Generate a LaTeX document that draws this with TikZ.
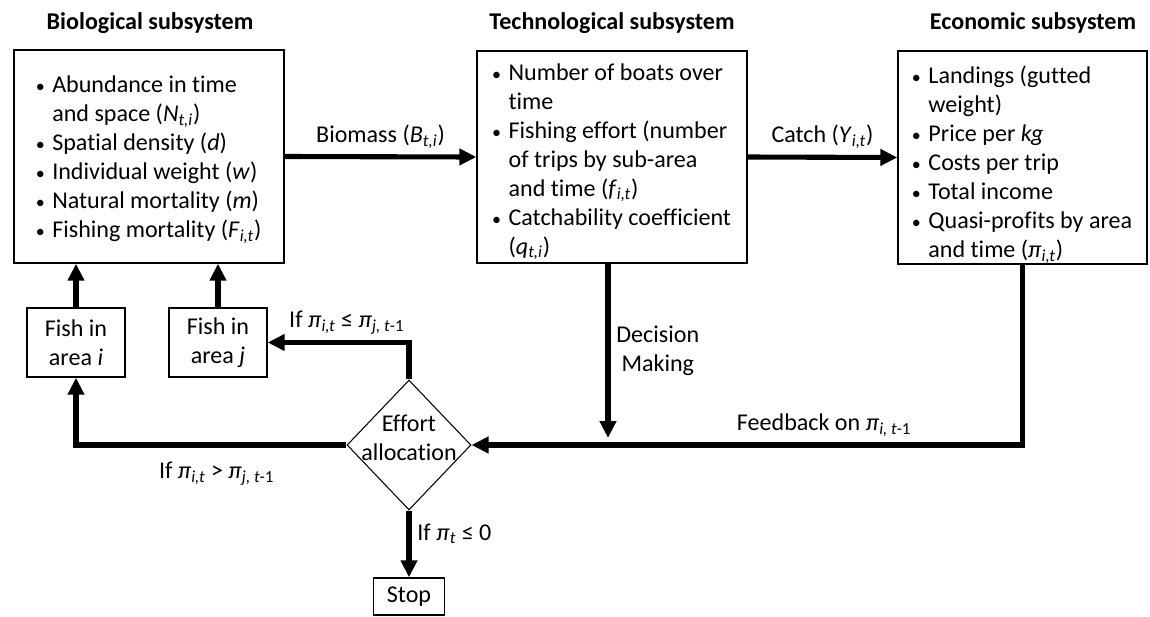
\documentclass[tikz,border=0pt]{standalone}
\usepackage{fontspec}
\setmainfont{Carlito}[Ligatures=NoCommon]
\usetikzlibrary{arrows.meta,shapes.geometric,calc}

\newcommand{\bul}{\makebox[0.3em][c]{\scalebox{0.75}{•}}\hspace*{0.35em}}
\newcommand{\ind}{\hspace*{0.65em}}
\newcommand{\isub}[1]{\textsubscript{\textit{#1}}}

\tikzset{
  txt/.style={font=\fontsize{13.7}{16.5}\selectfont},
  title/.style={font=\fontsize{13.7}{16.5}\selectfont\bfseries},
  box/.style={txt, draw, line width=0.8pt, rectangle, align=left, inner sep=0pt},
  small box/.style={box, align=center, minimum width=1.96cm, minimum height=1.38cm},
  flow/.style={line width=2.9pt, -{Triangle[length=0.34cm,width=0.32cm]}},
}

\begin{document}
\begin{tikzpicture}[x=0.02cm,y=-0.02cm]
\useasboundingbox (0,0) rectangle (1150,616);

% the three subsystems
\node[title] (biotitle) at (150,23) {Biological subsystem};
\node[title] (techtitle) at (612,23) {Technological subsystem};
\node[title] (ecotitle) at (1033,23) {Economic subsystem};

\node[box, minimum width=5.4cm, minimum height=4.26cm] (bio) at (149,156.5)
  {\bul Abundance in time\rule{0pt}{13pt}\\
   \ind and space (\textit{N}\isub{t,i})\\
   \bul Spatial density (\textit{d})\\
   \bul Individual weight (\textit{w})\\
   \bul Natural mortality (\textit{m})\\
   \bul Fishing mortality (\textit{F}\isub{i,t})};

\node[box, minimum width=5.4cm, minimum height=4.24cm] (tech) at (612,157)
  {\bul Number of boats over\rule{0pt}{15pt}\\
   \ind time\\
   \bul Fishing effort (number\\
   \ind of trips by sub-area\\
   \ind and time (\textit{f}\isub{i,t})\\
   \bul Catchability coefficient\\
   \ind (\textit{q}\isub{t,i})};

\node[box, minimum width=4.98cm, minimum height=4.26cm] (econ) at (1022.5,157.5)
  {\bul Landings (gutted\rule{0pt}{18.3pt}\\
   \ind weight)\\
   \bul Price per \textit{kg}\\
   \bul Costs per trip\\
   \bul Total income\\
   \bul Quasi-profits by area\\
   \ind and time (\textit{π}\isub{i,t})};

% lower part
\node[small box] (fishi) at (76,342.5) {Fish in\\area \textit{i}};
\node[small box] (fishj) at (218,342.5) {Fish in\\area \textit{j}};
\node[draw, diamond, line width=0.6pt, inner sep=0pt, minimum width=2.48cm,
  minimum height=2.6cm] (alloc) at (409,445) {};
\node[txt, align=center] (alloctext) at (409,438) {Effort\\allocation};
\node[box, align=center, minimum width=1.42cm, minimum height=0.74cm] (stop) at (409,596.5) {Stop};

% connectors
\draw[flow] (bio.east) -- node[txt, above] (biomass) {Biomass (\textit{B}\isub{t,i})} (tech.west);
\draw[flow] (tech.east) -- node[txt, above] (catch) {Catch (\textit{Y}\isub{i,t})} (econ.west);
\draw[flow] (fishi.north) -- (fishi.north |- bio.south);
\draw[flow] (fishj.north) -- (fishj.north |- bio.south);
\draw[flow] ($(tech.south)+(-4,0)$) -- node[txt, right, align=center] (decision) {Decision\\Making}
  ($(tech.south |- alloc)+(-4,-7)$);
\draw[flow] (econ.south) |- node[txt, above, pos=0.68] (feedback)
  {Feedback on \textit{π}\textsubscript{\textit{i, t}-1}} (alloc.east);
\draw[flow] (alloc.north) |- node[txt, above, pos=0.72] (ifle)
  {If \textit{π}\isub{i,t} ≤ \textit{π}\textsubscript{\textit{j, t}-1}} (fishj.east);
\draw[flow] (alloc.west) -| node[txt, below=5pt, pos=0.24] (ifgt)
  {If \textit{π}\isub{i,t} > \textit{π}\textsubscript{\textit{j, t}-1}} (fishi.south);
\draw[flow] (alloc.south) -- node[txt, right, pos=0.35] (ifstop) {If \textit{π}\isub{t} ≤ 0} (stop.north);
\end{tikzpicture}
\end{document}
